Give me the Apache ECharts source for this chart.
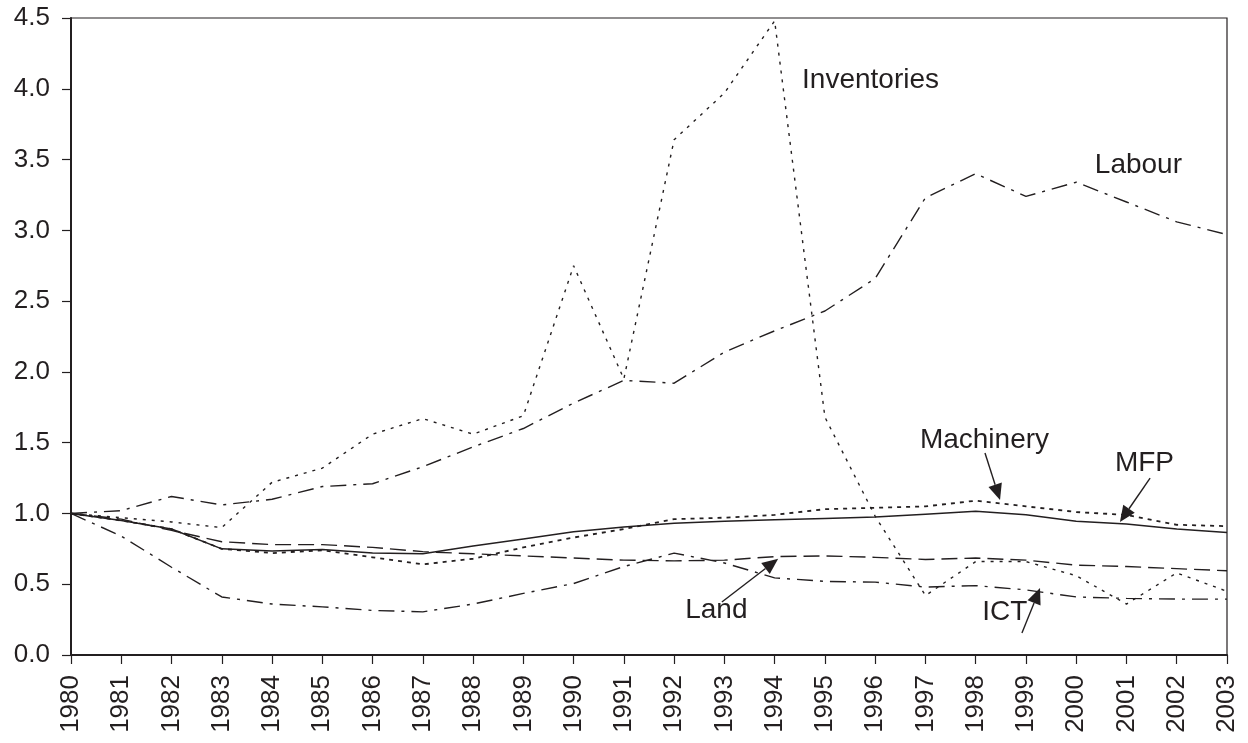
<!DOCTYPE html>
<html><head><meta charset="utf-8">
<script src="https://cdn.jsdelivr.net/npm/echarts@6/dist/echarts.min.js"></script>
<style>html,body{margin:0;padding:0;background:#fff}#c{width:1248px;height:743px}</style>
</head><body><div id="c"></div>
<script>
const years = ['1980','1981','1982','1983','1984','1985','1986','1987','1988','1989','1990','1991','1992','1993','1994','1995','1996','1997','1998','1999','2000','2001','2002','2003'];
const labour      = [1.00,1.02,1.12,1.06,1.10,1.19,1.21,1.33,1.47,1.60,1.78,1.94,1.92,2.14,2.29,2.43,2.66,3.23,3.40,3.24,3.34,3.20,3.06,2.97];
const inventories = [1.00,0.97,0.94,0.90,1.22,1.32,1.56,1.67,1.56,1.69,2.75,1.95,3.64,3.97,4.48,1.68,0.98,0.42,0.66,0.66,0.56,0.36,0.58,0.45];
const machinery   = [1.00,0.95,0.89,0.75,0.72,0.74,0.69,0.64,0.68,0.76,0.83,0.89,0.96,0.97,0.99,1.03,1.04,1.05,1.09,1.05,1.01,0.99,0.92,0.91];
const mfp         = [1.00,0.95,0.89,0.75,0.735,0.745,0.72,0.715,0.77,0.82,0.87,0.905,0.93,0.945,0.955,0.965,0.975,0.995,1.015,0.99,0.945,0.925,0.89,0.865];
const land        = [1.00,0.96,0.88,0.80,0.78,0.78,0.76,0.73,0.715,0.70,0.685,0.67,0.665,0.67,0.695,0.70,0.69,0.675,0.685,0.67,0.635,0.625,0.61,0.595];
const ict         = [1.00,0.84,0.62,0.41,0.36,0.34,0.315,0.305,0.36,0.435,0.505,0.625,0.72,0.65,0.545,0.52,0.515,0.48,0.49,0.46,0.41,0.40,0.395,0.395];

const INK = '#231f20';
const FONT = '"Liberation Sans", Arial, sans-serif';
const chart = echarts.init(document.getElementById('c'), null, {renderer:'canvas'});
function ser(name, data, type, width){
  return {name, type:'line', data, symbol:'none', smooth:false, animation:false,
    lineStyle:{color:INK, width:width||1.4, type:type}};
}
chart.setOption({
  animation:false,
  backgroundColor:'#fff',
  grid:{left:71, right:21, top:18, bottom:88, show:true, borderColor:INK, borderWidth:1.2, backgroundColor:'transparent'},
  textStyle:{fontFamily:FONT},
  xAxis:{type:'category', data:years, boundaryGap:false,
    axisLine:{lineStyle:{color:INK, width:2}},
    axisTick:{show:true, alignWithLabel:true, length:9, lineStyle:{color:INK, width:1.2}, interval:0},
    axisLabel:{rotate:90, fontSize:26, color:INK, interval:0, margin:20, fontFamily:FONT},
    splitLine:{show:false}},
  yAxis:{type:'value', min:0, max:4.5, interval:0.5,
    axisLine:{show:true, lineStyle:{color:INK, width:2}},
    axisTick:{show:true, length:9, lineStyle:{color:INK, width:1.2}},
    axisLabel:{fontSize:26, color:INK, margin:21, formatter:v=>v.toFixed(1), fontFamily:FONT},
    splitLine:{show:false}},
  series:[
    ser('Labour', labour, [16,7,3,7]),
    ser('Inventories', inventories, [3,6]),
    ser('Machinery', machinery, [4,5], 1.8),
    ser('MFP', mfp, 'solid', 1.5),
    ser('Land', land, [16,7]),
    ser('ICT', ict, [16,7,3,7])
  ]
});

// annotations placed in data space (fractional category index, value)
const notes = [
  {text:'Inventories', at:[14.545,4.06]},
  {text:'Labour', at:[20.37,3.46]},
  {text:'Machinery', at:[16.89,1.52]},
  {text:'MFP', at:[20.77,1.355]},
  {text:'Land', at:[12.22,0.318]},
  {text:'ICT', at:[18.13,0.304]}
];
const arrows = [
  {from:[18.185,1.427], to:[18.484,1.095]},
  {from:[21.47,1.25], to:[20.87,0.94]},
  {from:[12.95,0.374], to:[14.07,0.68]},
  {from:[18.92,0.155], to:[19.28,0.473]}
];
const p0 = chart.convertToPixel({gridIndex:0}, [0,0]);
const p1 = chart.convertToPixel({gridIndex:0}, [1,1]);
function px(pt){ return [p0[0] + pt[0]*(p1[0]-p0[0]), p0[1] + pt[1]*(p1[1]-p0[1])]; }
const g = [];
notes.forEach(n=>{
  const p = px(n.at);
  g.push({type:'text', x:p[0], y:p[1], style:{text:n.text, fill:INK, font:'28px ' + FONT, textAlign:'left', textVerticalAlign:'middle'}, z:10});
});
arrows.forEach(a=>{
  const s = px(a.from), t = px(a.to);
  const dx = t[0]-s[0], dy = t[1]-s[1];
  const L = Math.hypot(dx,dy), ux = dx/L, uy = dy/L;
  const hl = 16, hw = 7;
  const bx = t[0]-ux*hl, by = t[1]-uy*hl;
  g.push({type:'line', shape:{x1:s[0], y1:s[1], x2:bx, y2:by}, style:{stroke:INK, lineWidth:1.4}, z:10});
  g.push({type:'polygon', shape:{points:[[t[0],t[1]],[bx-uy*hw, by+ux*hw],[bx+uy*hw, by-ux*hw]]}, style:{fill:INK}, z:10});
});
chart.setOption({graphic:g});
</script>
</body></html>
